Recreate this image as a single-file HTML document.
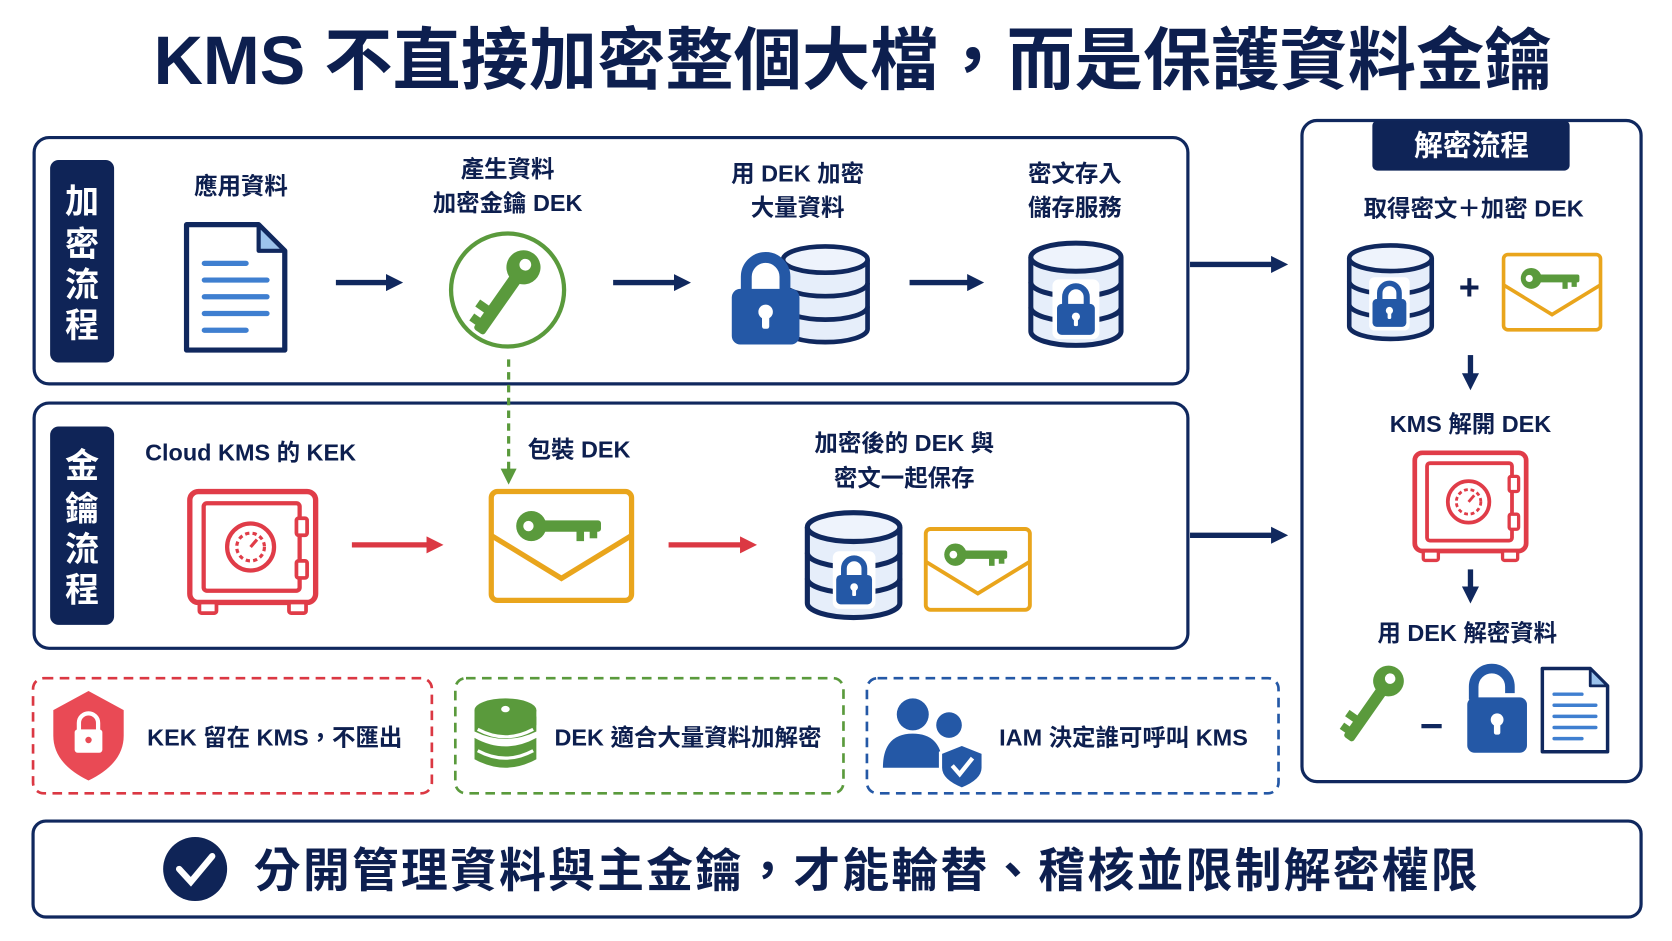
<!DOCTYPE html>
<html><head><meta charset="utf-8"><style>
html,body{margin:0;padding:0;background:#fff;}
svg{display:block;}
text{font-family:"Liberation Sans","Noto Sans CJK TC",sans-serif;font-weight:bold;}
</style></head><body>
<svg width="1672" height="941" viewBox="0 0 1568 882.5" preserveAspectRatio="none" xmlns="http://www.w3.org/2000/svg">
<defs>
<symbol id="db" viewBox="0 0 100 110" overflow="visible">
<path d="M5 18 V92 A45 14 0 0 0 95 92 V18" fill="#e6eefa" stroke="#10285e" stroke-width="5"/>
<ellipse cx="50" cy="18" rx="45" ry="14" fill="#eef3fc" stroke="#10285e" stroke-width="5"/>
<path d="M5 43 A45 14 0 0 0 95 43 M5 68 A45 14 0 0 0 95 68" fill="none" stroke="#10285e" stroke-width="5"/>
</symbol>
<symbol id="lock" viewBox="0 0 60 80" overflow="visible">
<path d="M14 36 V22 A16 16 0 0 1 46 22 V36" fill="none" stroke="#2458a6" stroke-width="9"/>
<rect x="2" y="32" width="56" height="46" rx="7" fill="#2458a6"/>
<circle cx="30" cy="51" r="6" fill="#fff"/><rect x="27" y="51" width="6" height="14" rx="2" fill="#fff"/>
</symbol>
<symbol id="key" viewBox="0 0 100 40" overflow="visible">
<circle cx="18" cy="20" r="16" fill="#5a9a3c"/><circle cx="15" cy="20" r="5.5" fill="#fff"/>
<rect x="30" y="14" width="62" height="12" rx="3" fill="#5a9a3c"/>
<rect x="66" y="22" width="8" height="14" fill="#5a9a3c"/><rect x="80" y="22" width="8" height="11" fill="#5a9a3c"/>
</symbol>
<symbol id="env" viewBox="0 0 140 110" overflow="visible">
<rect x="3" y="3" width="134" height="104" rx="6" fill="#fff" stroke="#e9a51c" stroke-width="5"/>
<use href="#key" x="25" y="18" width="90" height="36"/>
<path d="M3 45 L70 86 L137 45" fill="none" stroke="#e9a51c" stroke-width="5"/>
</symbol>
<symbol id="safe" viewBox="0 0 124 122" overflow="visible">
<rect x="3" y="3" width="118" height="104" rx="8" fill="#fff" stroke="#e03c48" stroke-width="5"/>
<rect x="16" y="14" width="90" height="82" rx="3" fill="none" stroke="#e03c48" stroke-width="4"/>
<rect x="103" y="28" width="10" height="16" rx="2" fill="#fff" stroke="#e03c48" stroke-width="3.5"/>
<rect x="103" y="68" width="10" height="16" rx="2" fill="#fff" stroke="#e03c48" stroke-width="3.5"/>
<circle cx="60" cy="55" r="22" fill="none" stroke="#e03c48" stroke-width="4"/>
<circle cx="60" cy="55" r="13" fill="none" stroke="#e03c48" stroke-width="3" stroke-dasharray="4 3"/>
<path d="M60 55 L66 48" stroke="#e03c48" stroke-width="3"/>
<rect x="12" y="107" width="16" height="10" rx="2" fill="#fff" stroke="#e03c48" stroke-width="3.5"/>
<rect x="96" y="107" width="16" height="10" rx="2" fill="#fff" stroke="#e03c48" stroke-width="3.5"/>
</symbol>
<symbol id="doc" viewBox="0 0 100 126" overflow="visible">
<path d="M3 3 H72 L97 28 V123 H3 Z" fill="#fff" stroke="#10285e" stroke-width="5" stroke-linejoin="round"/>
<path d="M72 3 V28 H97 Z" fill="#9cc3ec" stroke="#10285e" stroke-width="4" stroke-linejoin="round"/>
<g stroke="#3f7fd0" stroke-width="5" stroke-linecap="round"><path d="M20 40 H60 M20 56 H80 M20 72 H80 M20 88 H80 M20 104 H60"/></g>
</symbol>
<marker id="ah" viewBox="0 0 10 10" refX="5" refY="5" markerWidth="3.2" markerHeight="3.2" orient="auto"><path d="M0 0 L10 5 L0 10 Z" fill="#10285e"/></marker>
<marker id="ahr" viewBox="0 0 10 10" refX="5" refY="5" markerWidth="3.2" markerHeight="3.2" orient="auto"><path d="M0 0 L10 5 L0 10 Z" fill="#db3843"/></marker>
<marker id="ahg" viewBox="0 0 10 10" refX="5" refY="5" markerWidth="5" markerHeight="5" orient="auto"><path d="M0 0 L10 5 L0 10 Z" fill="#5a9a3c"/></marker>
</defs>

<text x="800" y="79" font-size="64" fill="#0d1f4f" text-anchor="middle">KMS 不直接加密整個大檔，而是保護資料金鑰</text>

<!-- boxes -->
<rect x="32" y="129" width="1082" height="231" rx="14" fill="#fff" stroke="#10285e" stroke-width="3"/>
<rect x="47" y="150" width="60" height="190" rx="8" fill="#0f2457"/>
<text font-size="32" fill="#fff" text-anchor="middle"><tspan x="77" y="200">加</tspan><tspan x="77" y="240">密</tspan><tspan x="77" y="278">流</tspan><tspan x="77" y="316">程</tspan></text>
<rect x="32" y="378" width="1082" height="230" rx="14" fill="#fff" stroke="#10285e" stroke-width="3"/>
<rect x="47" y="400" width="60" height="186" rx="8" fill="#0f2457"/>
<text font-size="32" fill="#fff" text-anchor="middle"><tspan x="77" y="448">金</tspan><tspan x="77" y="488">鑰</tspan><tspan x="77" y="526">流</tspan><tspan x="77" y="564">程</tspan></text>
<rect x="1221" y="113" width="318" height="620" rx="14" fill="#fff" stroke="#10285e" stroke-width="3"/>
<rect x="1287" y="113" width="185" height="47" rx="5" fill="#0f2457"/>
<text x="1380" y="146" font-size="27" fill="#fff" text-anchor="middle">解密流程</text>

<g font-size="22" fill="#0d1f4f" text-anchor="middle">
<text x="226" y="182">應用資料</text>
<text x="476" y="166">產生資料</text><text x="476" y="198">加密金鑰 DEK</text>
<text x="748" y="170">用 DEK 加密</text><text x="748" y="202">大量資料</text>
<text x="1008" y="170">密文存入</text><text x="1008" y="202">儲存服務</text>
<text x="235" y="432">Cloud KMS 的 KEK</text>
<text x="543" y="429">包裝 DEK</text>
<text x="848" y="423">加密後的 DEK 與</text><text x="848" y="456">密文一起保存</text>
<text x="1382" y="203">取得密文＋加密 DEK</text>
<text x="1379" y="405">KMS 解開 DEK</text>
<text x="1376" y="601">用 DEK 解密資料</text>
</g>

<use href="#doc" x="172" y="206" width="98" height="127"/>
<g stroke="#10285e" stroke-width="5" fill="none">
<path d="M315 265 H370" marker-end="url(#ah)"/>
<path d="M575 265 H640" marker-end="url(#ah)"/>
<path d="M853 265 H915" marker-end="url(#ah)"/>
<path d="M1116 248 H1200" marker-end="url(#ah)"/>
<path d="M1116 502 H1200" marker-end="url(#ah)"/>
<path d="M1379 333 V358" marker-end="url(#ah)"/>
<path d="M1379 534 V558" marker-end="url(#ah)"/>
</g>
<circle cx="476" cy="272" r="53" fill="#fff" stroke="#5a9a3c" stroke-width="4"/>
<use href="#key" x="432" y="252" width="100" height="40" transform="rotate(125 476 272)"/>
<use href="#db" x="730" y="225" width="88" height="102"/>
<use href="#lock" x="684" y="232" width="68" height="96"/>
<use href="#db" x="962" y="222" width="94" height="108"/>
<rect x="987" y="262" width="44" height="56" rx="6" fill="#fff"/>
<use href="#lock" x="990" y="264" width="38" height="52"/>

<path d="M477 337 V447" stroke="#5a9a3c" stroke-width="3" stroke-dasharray="7 5" fill="none" marker-end="url(#ahg)"/>
<use href="#safe" x="175" y="458" width="124" height="122"/>
<g stroke="#db3843" stroke-width="5" fill="none">
<path d="M330 511 H408" marker-end="url(#ahr)"/>
<path d="M627 511 H702" marker-end="url(#ahr)"/>
</g>
<use href="#env" x="457" y="458" width="139" height="108"/>
<use href="#db" x="752" y="477" width="97" height="106"/>
<rect x="781" y="517" width="40" height="54" rx="6" fill="#fff"/>
<use href="#lock" x="783" y="519" width="36" height="50"/>
<use href="#env" x="866" y="490" width="102" height="88"/>

<!-- right -->
<use href="#db" x="1261" y="225" width="86" height="98"/>
<rect x="1284" y="260" width="38" height="50" rx="5" fill="#fff"/>
<use href="#lock" x="1286" y="262" width="34" height="46"/>
<text x="1378" y="281" font-size="34" fill="#0d1f4f" text-anchor="middle">+</text>
<use href="#env" x="1408" y="236" width="95" height="76"/>
<use href="#safe" x="1322" y="422" width="114" height="108"/>
<use href="#key" x="1243" y="645" width="90" height="36" transform="rotate(125 1287 662)"/>
<path d="M1333 681 H1352" stroke="#10285e" stroke-width="4"/>
<path d="M1382 656 V644 A17 17 0 0 1 1416 644 V650" fill="none" stroke="#2458a6" stroke-width="9"/>
<rect x="1376" y="654" width="56" height="52" rx="7" fill="#2458a6"/>
<circle cx="1404" cy="675" r="6" fill="#fff"/><rect x="1401" y="675" width="6" height="14" rx="2" fill="#fff"/>
<use href="#doc" x="1444" y="625" width="66" height="82"/>

<!-- legend -->
<rect x="31" y="636" width="374" height="108" rx="10" fill="none" stroke="#db3843" stroke-width="2.5" stroke-dasharray="9 6"/>
<rect x="427" y="636" width="364" height="108" rx="10" fill="none" stroke="#5a9a3c" stroke-width="2.5" stroke-dasharray="9 6"/>
<rect x="813" y="636" width="386" height="108" rx="10" fill="none" stroke="#2458a6" stroke-width="2.5" stroke-dasharray="9 6"/>
<path d="M83 648 L116 666 V690 Q116 716 83 732 Q50 716 50 690 V666 Z" fill="#e94a55"/>
<path d="M74 686 V678 A9 9 0 0 1 92 678 V686" fill="none" stroke="#fff" stroke-width="4"/>
<rect x="70" y="684" width="26" height="22" rx="3" fill="#fff"/><circle cx="83" cy="694" r="3" fill="#e94a55"/>
<g fill="#5a9a3c">
<ellipse cx="474" cy="666" rx="29" ry="11"/>
<path d="M445 672 Q474 688 503 672 V686 Q474 700 445 686 Z"/>
<path d="M445 692 Q474 708 503 692 V712 Q474 728 445 712 Z"/>
<path d="M445 666 V680 Q474 694 503 680 V666 Z"/>
</g>
<ellipse cx="474" cy="665" rx="4" ry="3" fill="#fff"/>
<path d="M448 684 Q474 698 500 684 M448 704 Q474 718 500 704" stroke="#fff" stroke-width="3" fill="none"/>
<g fill="#2458a6">
<circle cx="856" cy="670" r="15"/><path d="M828 720 Q828 688 856 688 Q884 688 884 720 Z"/>
<circle cx="890" cy="680" r="12"/>
<path d="M902 698 L922 706 V720 Q922 732 902 740 Q882 732 882 720 V706 Z" stroke="#fff" stroke-width="3"/>
</g>
<path d="M893 718 L900 726 L912 711" stroke="#fff" stroke-width="4" fill="none"/>
<g font-size="22" fill="#0d1f4f">
<text x="138" y="699">KEK 留在 KMS，不匯出</text>
<text x="520" y="699">DEK 適合大量資料加解密</text>
<text x="937" y="699">IAM 決定誰可呼叫 KMS</text>
</g>

<!-- bottom -->
<rect x="31" y="770" width="1508" height="90" rx="12" fill="#fff" stroke="#10285e" stroke-width="3"/>
<circle cx="183" cy="815" r="30" fill="#0f2457"/>
<path d="M168 815 L179 827 L199 803" stroke="#fff" stroke-width="6" fill="none" stroke-linecap="round"/>
<text x="238" y="832" font-size="44" fill="#0d1f4f" letter-spacing="2">分開管理資料與主金鑰，才能輪替、稽核並限制解密權限</text>
</svg>
</body></html>
